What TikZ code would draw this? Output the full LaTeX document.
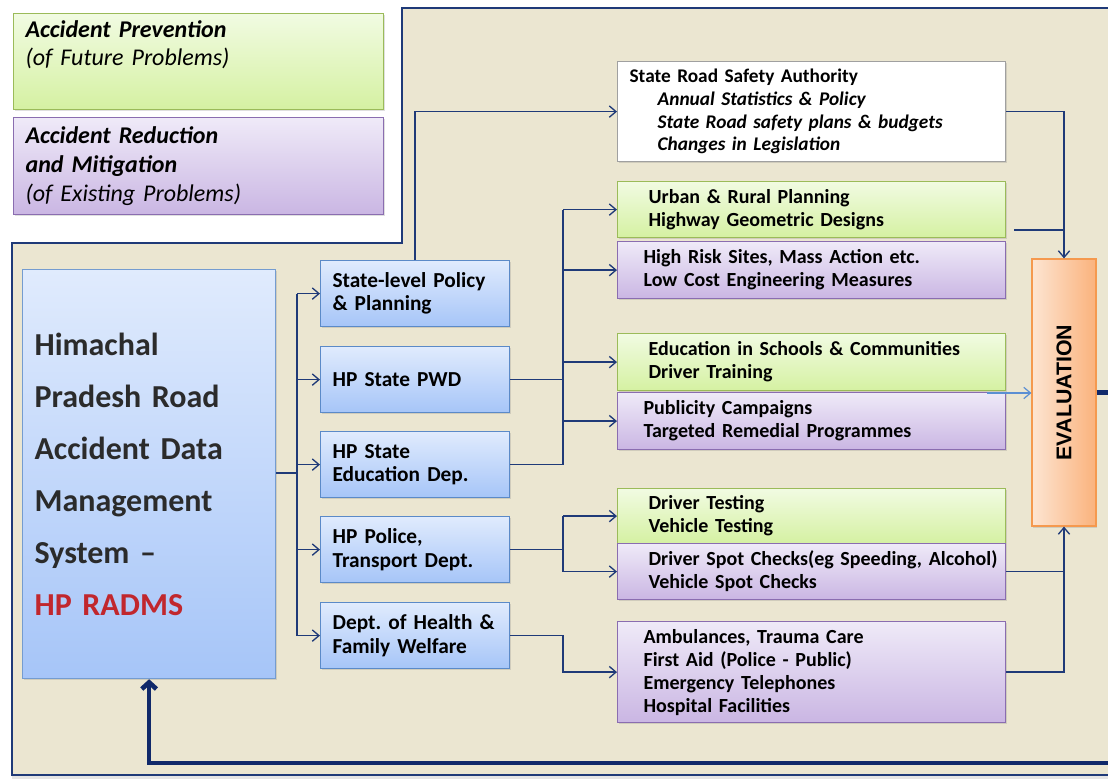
\documentclass[tikz,border=0pt]{standalone}
\usepackage{fontspec}
\usepackage{graphicx}
\setmainfont{Carlito}[WordSpace=0.75]
\newfontfamily\evalfont{Liberation Sans}
\usetikzlibrary{arrows.meta,shadows}
\frenchspacing
\definecolor{navy}{HTML}{1F3A78}
\definecolor{navyd}{HTML}{10296A}
\definecolor{lightarr}{HTML}{5B8FD3}
\definecolor{beige}{HTML}{EBE6D1}
\definecolor{gtop}{HTML}{F1FBE2}
\definecolor{gbot}{HTML}{D5F1A2}
\definecolor{gbord}{HTML}{9BBB59}
\definecolor{ptop}{HTML}{EFEAF8}
\definecolor{pbot}{HTML}{CAB6E3}
\definecolor{pbord}{HTML}{8A6DB0}
\definecolor{btop}{HTML}{E0EBFD}
\definecolor{bbot}{HTML}{A6C5F8}
\definecolor{bbord}{HTML}{5B8AC8}
\definecolor{otop}{HTML}{FDE5D2}
\definecolor{obot}{HTML}{FAB27C}
\definecolor{obord}{HTML}{F5994E}
\definecolor{radred}{HTML}{C1272D}
\definecolor{txtgray}{HTML}{2B2B2B}
\definecolor{srsabord}{HTML}{A0A0A0}
\begin{document}
\begin{tikzpicture}[x=0.75pt,y=-0.75pt,
  box/.style={draw, line width=0.9pt, rectangle, anchor=north west, align=left,
    drop shadow={opacity=0.25,shadow xshift=1pt,shadow yshift=-1.2pt}},
  greenbox/.style={box, draw=gbord, top color=gtop, bottom color=gbot},
  purplebox/.style={box, draw=pbord, top color=ptop, bottom color=pbot},
  bluebox/.style={box, draw=bbord, top color=btop, bottom color=bbot},
  rbox/.style={minimum width=291pt, inner ysep=0pt, font=\fontsize{15}{17.25}\selectfont\bfseries},
  ra/.style={inner xsep=23.25pt, text width=244.5pt},
  rb/.style={inner xsep=19.5pt, text width=252pt},
  dept/.style={bluebox, minimum width=141.75pt, minimum height=49.5pt, inner xsep=9pt, inner ysep=0pt,
    text width=123.75pt, font=\fontsize{16}{17.5}\selectfont\bfseries},
  legend/.style={minimum width=277.5pt, inner xsep=9pt, inner ysep=0pt, text width=259.5pt,
    font=\fontsize{18}{21.5}\selectfont},
  conn/.style={draw=navy, line width=1pt},
  arr/.style={conn, -{Straight Barb[length=5pt,width=8.5pt]}},
  lightconn/.style={draw=lightarr, line width=0.9pt, -{Straight Barb[length=5pt,width=8.5pt]}},
  fb/.style={draw=navyd, line width=3.5pt, -{Straight Barb[length=5pt,width=11pt]}}
]
\useasboundingbox (0,0) rectangle (1108,779);
\clip (0,0) rectangle (1108,779);
\fill[white] (0,0) rectangle (1108,779);
% background frame
\draw[navy, line width=0.9pt, fill=beige] (402,8) -- (1120,8) -- (1120,775) -- (12,775) -- (12,243) -- (402,243) -- cycle;
\fill[black!10] (12,776) rectangle (1108,779);

% legend
\node[greenbox, legend, minimum height=72pt] (legA) at (13,13)
  {\textbf{\textit{Accident Prevention}}\\\textit{(of Future Problems)}\\\strut};
\node[purplebox, legend, minimum height=72.75pt] (legB) at (13,117)
  {\textbf{\textit{Accident Reduction}}\\\textbf{\textit{and Mitigation}}\\\textit{(of Existing Problems)}};

% main system box
\node[bluebox, draw=bbord!85, minimum width=189.75pt, minimum height=306.75pt, inner xsep=9pt, inner ysep=0pt,
  text width=171.75pt, font=\fontsize{24}{39}\selectfont\bfseries, text=txtgray] (radms) at (22,269)
  {Himachal\\Pradesh Road\\Accident Data\\Management\\System –\\\textcolor{radred}{HP RADMS}};

% departments
\node[dept] (pol) at (320,260) {State-level Policy\\\& Planning};
\node[dept] (pwd) at (320,346) {HP State PWD};
\node[dept] (edu) at (320,431) {HP State\\Education Dep.};
\node[dept] (pol2) at (320,516) {HP Police,\\Transport Dept.};
\node[dept] (hea) at (320,602) {\mbox{Dept. of Health \&}\\Family Welfare};

% right-hand boxes
\node[box, fill=white, draw=srsabord, minimum width=291pt, minimum height=75pt, inner xsep=9pt, inner ysep=0pt,
  text width=273pt, font=\fontsize{14.5}{17}\selectfont\bfseries] (srsa) at (617,61)
  {State Road Safety Authority\\
   \hspace*{21pt}\textit{Annual Statistics \& Policy}\\
   \hspace*{21pt}\textit{State Road safety plans \& budgets}\\
   \hspace*{21pt}\textit{Changes in Legislation}};
\node[greenbox, rbox, ra, minimum height=42pt] (urb) at (617,181)
  {Urban \& Rural Planning\\Highway Geometric Designs};
\node[purplebox, rbox, rb, minimum height=42.75pt] (risk) at (617,241)
  {High Risk Sites, Mass Action etc.\\Low Cost Engineering Measures};
\node[greenbox, rbox, ra, minimum height=42.75pt] (educ) at (617,333)
  {Education in Schools \& Communities\\Driver Training};
\node[purplebox, rbox, rb, minimum height=42.75pt] (pub) at (617,392)
  {Publicity Campaigns\\Targeted Remedial Programmes};
\node[greenbox, rbox, ra, minimum height=41.25pt] (dtest) at (617,488)
  {Driver Testing\\Vehicle Testing};
\node[purplebox, rbox, ra, minimum height=42pt] (spot) at (617,543)
  {\mbox{Driver Spot Checks(eg Speeding, Alcohol)}\\Vehicle Spot Checks};
\node[purplebox, rbox, rb, minimum height=75.75pt] (amb) at (617,621)
  {Ambulances, Trauma Care\\First Aid (Police - Public)\\Emergency Telephones\\Hospital Facilities};

% evaluation
\node[draw=obord, line width=0.9pt, left color=otop, right color=obot, minimum width=48pt, minimum height=200.25pt,
  inner sep=0pt, font=\evalfont\bfseries\fontsize{16}{18}\selectfont,
  drop shadow={opacity=0.25,shadow xshift=1pt,shadow yshift=-1.2pt}] (eval) at (1064,392.5)
  {\rotatebox{90}{EVALUATION}};

% connectors: system to departments
\coordinate (busL) at (297,473);
\draw[conn] (radms.east |- busL) -- (busL);
\draw[conn] (busL |- pol) -- (busL |- hea);
\foreach \n in {pol,pwd,edu,pol2,hea} \draw[arr] (busL |- \n) -- (\n.west);

% state-level policy to authority
\draw[arr] (pol.north) |- (srsa.west);

% PWD / education bus
\coordinate (busR) at (563,0);
\draw[conn] (pwd.east) -- (busR |- pwd);
\draw[conn] (edu.east) -- (busR |- edu);
\draw[conn] (busR |- urb) -- (busR |- edu);
\foreach \n in {urb,risk,educ,pub} \draw[arr] (busR |- \n) -- (\n.west);

% police bus
\draw[conn] (pol2.east) -- (busR |- pol2);
\draw[conn] (busR |- dtest) -- (busR |- spot);
\foreach \n in {dtest,spot} \draw[arr] (busR |- \n) -- (\n.west);

% health
\draw[arr] (hea.east) -- (busR |- hea) |- (amb.west);

% to evaluation
\draw[arr] (srsa.east) -| (eval.north);
\coordinate (urbOut) at (1014,230);
\draw[conn] (urbOut) -- (eval.north |- urbOut);
\coordinate (eduOut) at (987,393);
\draw[lightconn] (eduOut) -- (eval.west |- eduOut);
\draw[conn] (spot.east) -- (eval.south |- spot.east);
\draw[arr] (amb.east) -| (eval.south);

% feedback loop
\coordinate (fbR) at (1118,763);
\draw[fb] (eval.east) -- (fbR |- eval.east) -- (fbR) -| (radms.south);
\end{tikzpicture}
\end{document}
